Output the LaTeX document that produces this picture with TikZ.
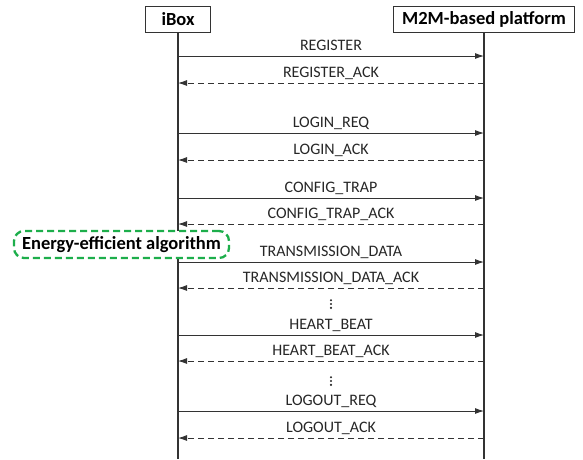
\documentclass[tikz,border=0pt]{standalone}
\usepackage{fontspec}
\setmainfont{Carlito}
\usetikzlibrary{arrows.meta}

\definecolor{linegray}{HTML}{333333}
\definecolor{algogreen}{HTML}{1DAE4B}

\tikzset{
	actor/.style = {draw = linegray, line width = 0.9pt, fill = white, minimum height = 26pt, inner xsep = 6pt, font = \fontsize{18.5}{20}\selectfont\bfseries},
	lifeline/.style = {linegray, line width = 1.3pt},
	req/.style = {linegray, line width = 0.9pt, -{Latex[length = 9pt, width = 6pt]}},
	ack/.style = {req, dash pattern = on 6pt off 4pt},
	msglabel/.style = {anchor = base, inner sep = 0pt, text = black!85, font = \fontsize{16}{18}\selectfont},
	algo/.style = {draw = algogreen, line width = 2.3pt, dash pattern = on 7pt off 4pt, rounded corners = 10pt, minimum width = 215pt, minimum height = 27pt, inner sep = 0pt, font = \fontsize{18.5}{20}\selectfont\bfseries}
}

\begin{document}
	\begin{tikzpicture}[x = 1pt, y = -1pt]
		\useasboundingbox (0,0) rectangle (583,459);
		\def\xl{178};
		\def\xr{484};
		\def\xm{331};
		
		% lifelines
		\begin{scope}
		\coordinate (ibox end) at (\xl,459);
		\coordinate (m2m end) at (\xr,459);
		\draw [lifeline] (\xl,19) -- (ibox end);
		\draw [lifeline] (\xr,19) -- (m2m end);
		\node [actor, minimum width = 65pt] (ibox) at (\xl,19) {iBox};
		\node [actor, minimum width = 181pt] (m2m) at (\xr,19) {M2M-based platform};
		\end{scope}
		
		% messages
		\begin{scope}
		\foreach \i/\y/\kind/\txt in {
			1/56/req/REGISTER,
			2/83/ack/REGISTER\_ACK,
			3/133/req/LOGIN\_REQ,
			4/160/ack/LOGIN\_ACK,
			5/198/req/CONFIG\_TRAP,
			6/224/ack/CONFIG\_TRAP\_ACK,
			7/262/req/TRANSMISSION\_DATA,
			8/288/ack/TRANSMISSION\_DATA\_ACK,
			9/335/req/HEART\_BEAT,
			10/361/ack/HEART\_BEAT\_ACK,
			11/411/req/LOGOUT\_REQ,
			12/438/ack/LOGOUT\_ACK}
		{
			\coordinate (ibox\i) at (\xl,\y);
			\coordinate (m2m\i) at (\xr,\y);
			\node [msglabel] (label\i) at (\xm,\y-6) {\txt};
		}
		\foreach \i in {1,3,5,7,9,11}
			\draw [req] (ibox\i) -- (m2m\i);
		\foreach \i in {2,4,6,8,10,12}
			\draw [ack] (m2m\i) -- (ibox\i);
		\end{scope}
		
		% skipped messages
		\foreach \y in {304,381}
			\foreach \d in {-3.8,0,3.8}
				\fill [black!85] (\xm,\y+\d) circle [radius = 1.2pt];
		
		\node [algo, fill = white] (algo) at (121.5,244.5) {Energy-efficient algorithm};
	\end{tikzpicture}
\end{document}
